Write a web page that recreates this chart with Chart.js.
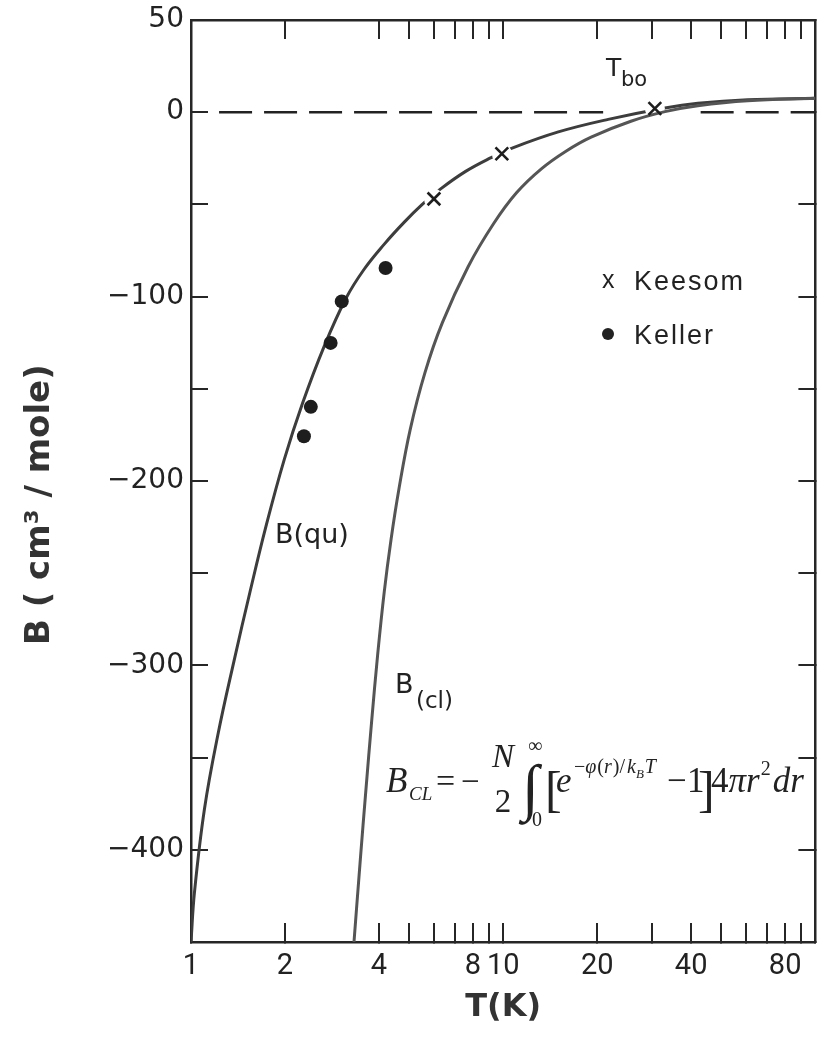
<!DOCTYPE html>
<html><head><meta charset="utf-8">
<script src="https://cdn.jsdelivr.net/npm/chart.js@4/dist/chart.umd.min.js"></script>
<style>html,body{margin:0;padding:0;background:#fff}canvas{display:block}</style>
</head><body>
<canvas id="c" width="827" height="1037"></canvas>
<script>
// ---- data ----
const quTemps  = [1.00, 1.026, 1.104, 1.218, 1.377, 1.543, 1.739, 1.989, 2.275, 2.668, 3.137, 3.581, 4.148, 4.805, 5.484, 6.305, 7.58, 9.108, 10.63, 15.02, 21.69, 32.98, 42.03, 60.71, 100];
const quValues = [-450, -423, -378, -338, -296.7, -260.6, -224.5, -188.4, -158.0, -127.1, -100.9, -85.3, -71.8, -59.9, -50.3, -41.6, -32.1, -24.8, -19.6, -10.7, -3.9, 2.3, 4.8, 6.7, 7.5];
const clTemps  = [3.327, 3.487, 3.628, 3.795, 3.957, 4.157, 4.373, 4.632, 5.036, 5.616, 6.386, 7.72, 9.31, 11.03, 13.25, 15.93, 19.13, 25.65, 32.98, 42.03, 60.71, 100];
const clValues = [-450, -405, -368.7, -329.2, -295.1, -260.4, -231.7, -204.6, -172.1, -141.2, -114.1, -83.8, -60.5, -43.7, -30.7, -21.0, -13.5, -4.9, 0.3, 3.5, 6.2, 7.5];
const keesomTemps  = [6.0, 9.9, 30.6];
const keesomValues = [-47, -22.5, 2];
const kellerTemps  = [2.30, 2.42, 2.80, 3.04, 4.20];
const kellerValues = [-175.7, -159.8, -125.1, -102.6, -84.5];
const zeroTemps  = [1.23, 20.9, 30, 42.9, 100];
const zeroValues = [0, 0, null, 0, 0];
const xTickValues  = [1, 2, 4, 5, 6, 7, 8, 9, 10, 20, 30, 40, 50, 60, 70, 80, 90, 100];
const xLabelValues = [1, 2, 4, 8, 10, 20, 40, 80];
const yTickValues  = [50, 0, -50, -100, -150, -200, -250, -300, -350, -400, -450];
const yLabelValues = [50, 0, -100, -200, -300, -400];

const pts = (xs, ys) => xs.map((x, i) => ({x: x, y: ys[i]}));
const ink = '#262626';
const sans = '"DejaVu Sans"';
const serif = '"Liberation Serif"';

function axisGrid(len){ return {display:true, drawOnChartArea:false, drawTicks:true, tickLength:len, color:ink, lineWidth:2}; }
const border = {display:true, color:ink, width:2.5};
function fitTo(prop, size){
  return s => { s[prop] = size; s.paddingLeft = 0; s.paddingRight = 0; s.paddingTop = 0; s.paddingBottom = 0; };
}

const annot = {
  id:'annot',
  afterDraw(chart){
    const c = chart.ctx;
    c.save();
    c.fillStyle = '#222';
    c.textBaseline = 'alphabetic';
    const put = (s, x, y, font, align) => { c.font = font; c.textAlign = align || 'left'; c.fillText(s, x, y); c.textAlign='left'; return x + c.measureText(s).width; };
    // T_bo
    put('T', 606, 76, '25px ' + sans);
    put('bo', 621, 86, '21px ' + sans);
    // B(qu)
    put('B(qu)', 275, 543, '27px ' + sans);
    // B(cl)
    put('B', 395, 693, '27px ' + sans);
    put('(cl)', 416, 708, '23px ' + sans);
    // legend
    c.letterSpacing = '2px';
    put('x', 602, 288, '25px "Liberation Sans"');
    put('Keesom', 634, 290, '27px "Liberation Sans"');
    put('Keller', 634, 344, '27px "Liberation Sans"');
    c.letterSpacing = '0px';
    c.beginPath(); c.arc(608, 334, 6, 0, Math.PI*2); c.fill();
    // formula
    const it = s => 'italic ' + s + 'px ' + serif;
    const rm = s => s + 'px ' + serif;
    put('B', 386, 792, it(35));
    put('CL', 409, 800, it(19));
    put('=', 436, 792, rm(34));
    put('\u2212', 461, 792, rm(33));
    put('N', 503, 767, it(33), 'center');
    put('2', 503, 812, rm(33), 'center');
    put('\u222B', 522, 808, rm(62));
    put('\u221E', 528, 752, rm(20));
    put('0', 532, 826, rm(20));
    put('[', 545, 806, rm(50));
    put('e', 556, 792, it(35));
    let x = put('\u2212', 574, 773, rm(20));
    x = put('\u03C6', x, 773, it(20));
    x = put('(', x + 1, 773, rm(20));
    x = put('r', x, 773, it(20));
    x = put(')/', x + 1, 773, rm(20));
    x = put('k', x + 2, 773, it(20));
    x = put('B', x, 778, it(13));
    x = put('T', x + 1, 773, it(20));
    put('\u2212', 667, 792, rm(35));
    put('1', 687, 792, rm(35));
    put(']', 698, 806, rm(50));
    x = put('4', 711, 792, rm(35));
    x = put('\u03C0r', x, 792, it(35));
    x = put('2', x + 1, 775, rm(20));
    put('dr', x + 2, 792, it(35));
    c.restore();
  }
};

new Chart(document.getElementById('c'), {
  type: 'line',
  data: { datasets: [
    {label:'Keesom', data: pts(keesomTemps, keesomValues), showLine:false, pointStyle:'crossRot', pointRadius:9, pointBorderWidth:2.6, pointBorderColor:'#1e1e1e', order:0},
    {label:'Keller', data: pts(kellerTemps, kellerValues), showLine:false, pointStyle:'circle', pointRadius:7, pointBackgroundColor:'#1e1e1e', pointBorderColor:'#1e1e1e', pointBorderWidth:0, order:0},
    {label:'B(cl)', data: pts(clTemps, clValues), borderColor:'#555', borderWidth:3, pointRadius:0, tension:0.4, fill:false, order:1},
    {label:'halo', data: pts(keesomTemps, keesomValues), showLine:false, pointStyle:'circle', pointRadius:10, pointBackgroundColor:'#fff', pointBorderWidth:0, order:2},
    {label:'B(qu)', data: pts(quTemps, quValues), borderColor:'#3d3d3d', borderWidth:3, pointRadius:0, tension:0.4, fill:false, order:3},
    {label:'zero', data: pts(zeroTemps, zeroValues), borderColor:'#222', borderWidth:2.5, borderDash:[33,12], pointRadius:0, spanGaps:false, fill:false, order:4}
  ]},
  options: {
    responsive:false, animation:false,
    layout:{padding:{left:0, right:9, top:20, bottom:0}},
    plugins:{legend:{display:false}, tooltip:{enabled:false}},
    scales:{
      x:{type:'logarithmic', position:'bottom', min:1, max:100,
        afterBuildTicks: s => { s.ticks = xTickValues.map(v => ({value:v})); },
        afterFit: fitTo('height', 95),
        ticks:{autoSkip:false, maxRotation:0, minRotation:0, padding:26, color:'#222', font:{family:'Roboto', size:29},
          callback: v => xLabelValues.includes(v) ? String(v) : ''},
        grid: axisGrid(-19), border: border,
        title:{display:true, text:'T(K)', color:'#333', font:{family:'DejaVu Sans', size:32, weight:'bold'}, padding:{top:0, bottom:10}}
      },
      x2:{type:'logarithmic', position:'top', min:1, max:100,
        afterBuildTicks: s => { s.ticks = xTickValues.map(v => ({value:v})); },
        afterFit: fitTo('height', 0),
        ticks:{display:false}, grid: axisGrid(-19), border: border
      },
      y:{type:'linear', position:'left', min:-450, max:50,
        afterBuildTicks: s => { s.ticks = yTickValues.map(v => ({value:v})); },
        afterFit: fitTo('width', 191),
        ticks:{autoSkip:false, padding:24, color:'#222', font:{family:'DejaVu Sans', size:28},
          callback: v => yLabelValues.includes(v) ? (v < 0 ? '\u2212' + Math.abs(v) : String(v)) : ''},
        grid: axisGrid(-17), border: border,
        title:{display:true, text:'B ( cm\u00B3 / mole)\u00A0\u00A0\u00A0\u00A0', color:'#333', font:{family:'DejaVu Sans', size:34, weight:'bold'}, padding:{top:20, bottom:0}}
      },
      y2:{type:'linear', position:'right', min:-450, max:50,
        afterBuildTicks: s => { s.ticks = yTickValues.map(v => ({value:v})); },
        afterFit: fitTo('width', 0),
        ticks:{display:false}, grid: axisGrid(-17), border: border
      }
    }
  },
  plugins:[annot]
});
</script>
</body></html>
